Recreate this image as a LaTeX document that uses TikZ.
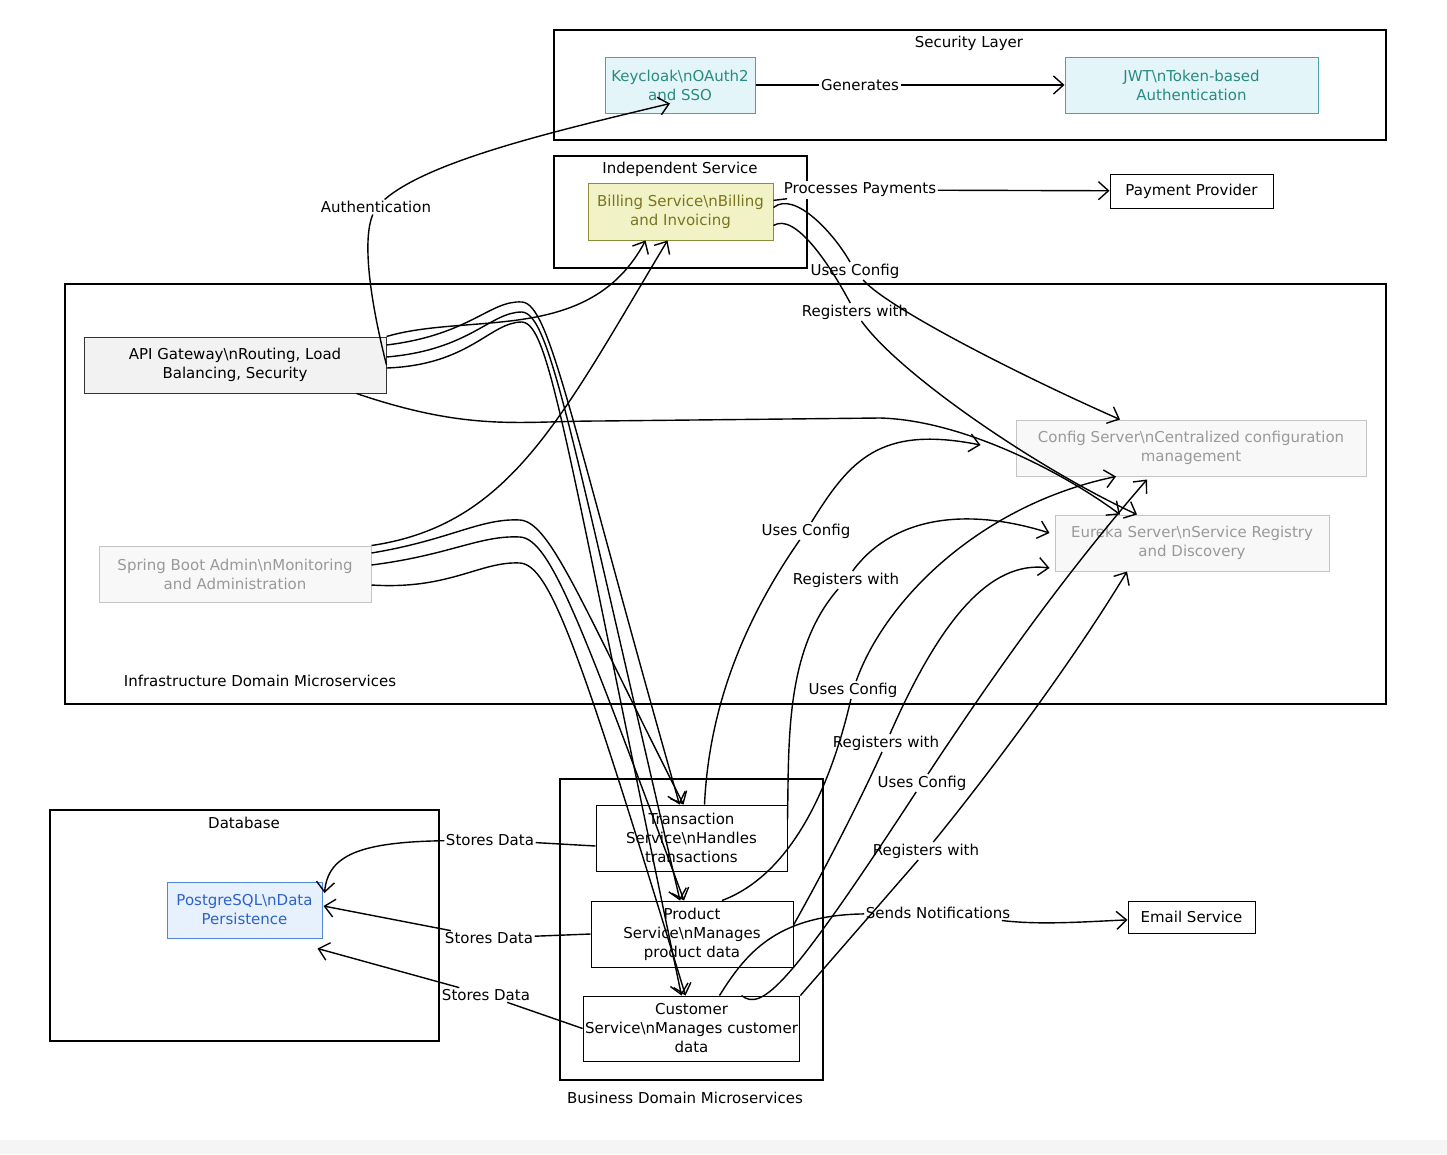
\documentclass[tikz,border=0pt]{standalone}
\usepackage{fontspec}
\setmainfont{DejaVu Sans}
\usetikzlibrary{arrows.meta,calc}

\definecolor{secfill}{HTML}{E3F5F9}
\definecolor{secline}{HTML}{4BA3A8}
\definecolor{sectext}{HTML}{2A8A80}
\definecolor{billfill}{HTML}{F1F3C6}
\definecolor{billline}{HTML}{8C8C3A}
\definecolor{billtext}{HTML}{7A7420}
\definecolor{gwfill}{HTML}{F2F2F2}
\definecolor{inffill}{HTML}{F8F8F8}
\definecolor{infline}{HTML}{C4C4C4}
\definecolor{inftext}{HTML}{999999}
\definecolor{dbfill}{HTML}{E7F1FD}
\definecolor{dbline}{HTML}{4F86D6}
\definecolor{dbtext}{HTML}{2D62C8}

\newcommand{\bsn}{\textbackslash n}

\begin{document}
\begin{tikzpicture}[x=1pt, y=-1pt, font=\fontsize{15}{19}\selectfont,
    grp/.style={line width=1.3pt},
    box/.style={draw, line width=1pt, align=center, inner sep=2pt},
    secbox/.style={box, fill=secfill, draw=secline, text=sectext},
    billbox/.style={box, fill=billfill, draw=billline, text=billtext},
    gwbox/.style={box, fill=gwfill, draw=black!80},
    infbox/.style={box, fill=inffill, draw=infline, text=inftext},
    dbbox/.style={box, fill=dbfill, draw=dbline, text=dbtext},
    plainbox/.style={box, fill=white, draw=black},
    lbl/.style={fill=white, inner sep=1.5pt},
    arr/.style={-{Straight Barb[length=10pt,width=18pt]}, line width=1.4pt}]
    \useasboundingbox (0,0) rectangle (1447,1154);
    \fill[black!4] (0,1140) rectangle (1447,1154);

    %% Draw the groups
    \draw[grp] (554,30) rectangle (1386,140);
    \node (secT) at (969,43) {Security Layer};
    \draw[grp] (554,156) rectangle (807,268);
    \node (indT) at (680,169) {Independent Service};
    \draw[grp] (65,284) rectangle (1386,704);
    \node (infT) at (260,681) {Infrastructure Domain Microservices};
    \draw[grp] (560,779) rectangle (823,1080);
    \node (busT) at (685,1098) {Business Domain Microservices};
    \draw[grp] (50,810) rectangle (439,1041);
    \node (dbT) at (244,823) {Database};

    %% Draw the nodes
    \node[secbox, minimum width=150pt, minimum height=56pt] (keycloak) at (680,85) {Keycloak\bsn OAuth2\\and SSO};
    \node[secbox, minimum width=253pt, minimum height=56pt] (jwt) at (1191.5,85) {JWT\bsn Token-based\\Authentication};
    \node[billbox, minimum width=185pt, minimum height=57pt] (billing) at (680.5,211.5) {Billing Service\bsn Billing\\and Invoicing};
    \node[plainbox, minimum width=163pt, minimum height=34pt] (payment) at (1191.5,191) {Payment Provider};
    \node[gwbox, minimum width=302pt, minimum height=56pt] (gateway) at (235,365) {API Gateway\bsn Routing, Load\\Balancing, Security};
    \node[infbox, minimum width=272pt, minimum height=56pt] (admin) at (235,574) {Spring Boot Admin\bsn Monitoring\\and Administration};
    \node[infbox, minimum width=350pt, minimum height=56pt] (config) at (1191,448) {Config Server\bsn Centralized configuration\\management};
    \node[infbox, minimum width=274pt, minimum height=56pt] (eureka) at (1192,543) {Eureka Server\bsn Service Registry\\and Discovery};
    \node[plainbox, minimum width=191pt, minimum height=66pt] (trans) at (691.5,838) {Transaction\\Service\bsn Handles\\transactions};
    \node[plainbox, minimum width=202pt, minimum height=66pt] (prod) at (692,934) {Product\\Service\bsn Manages\\product data};
    \node[plainbox, minimum width=215pt, minimum height=65pt] (cust) at (691.5,1028.5) {Customer\\Service\bsn Manages customer\\data};
    \node[dbbox, minimum width=155pt, minimum height=56pt] (pg) at (244.5,910) {PostgreSQL\bsn Data\\Persistence};
    \node[plainbox, minimum width=127pt, minimum height=32pt] (email) at (1191.5,917) {Email Service};

    %% Draw the edge labels
    \node[lbl] (gen) at (860,85) {Generates};
    \node[lbl] (auth) at (376,207) {Authentication};
    \node[lbl] (pay) at (860,190) {Processes Payments};
    \node[lbl] (bUses) at (855,271) {Uses Config};
    \node[lbl] (bReg) at (855,312) {Registers with};
    \node[lbl] (tUses) at (806,531) {Uses Config};
    \node[lbl] (tReg) at (846,580) {Registers with};
    \node[lbl] (pUses) at (853,690) {Uses Config};
    \node[lbl] (pReg) at (886,743) {Registers with};
    \node[lbl] (cUses) at (922,783) {Uses Config};
    \node[lbl] (cReg) at (926,851) {Registers with};
    \node[lbl] (notif) at (938,913) {Sends Notifications};
    \node[lbl] (tStore) at (490,840) {Stores Data};
    \node[lbl] (pStore) at (489,938) {Stores Data};
    \node[lbl] (cStore) at (486,995) {Stores Data};

    %% Draw the edges
    \begin{scope}[arr]
      \draw (keycloak) -- (gen) -- (jwt);
      \draw (gateway.east) .. controls (370,300) and (362,240) .. (auth) .. controls (430,160) and (560,130) .. ($(keycloak.south)+(-10,-10)$);
      \draw (billing) -- (pay) -- (payment);
      \draw ($(billing.east)+(0,-4)$) .. controls (795,190) and (835,235) .. (bUses) .. controls (890,310) and (1030,380) .. ($(config.north)+(-71,0)$);
      \draw ($(billing.east)+(0,14)$) .. controls (795,212) and (830,265) .. (bReg) .. controls (900,375) and (1040,470) .. ($(eureka.north)+(-55,0)$);
      \draw (gateway.north east) .. controls (470,312) and (590,345) .. ($(billing.south)+(-35,0)$);
      \draw (admin.north east) .. controls (510,525) and (560,420) .. ($(billing.south)+(-13,0)$);
      \draw ($(gateway.east)+(0,-20)$) .. controls (470,335) and (490,300) .. (522,302) .. controls (550,304) and (570,420) .. ($(trans.north)+(-12,0)$);
      \draw ($(gateway.east)+(0,-8)$) .. controls (470,350) and (490,312) .. (522,312) .. controls (550,314) and (570,430) .. ($(prod.north)+(-12,0)$);
      \draw ($(gateway.east)+(0,3)$) .. controls (470,365) and (490,322) .. (522,322) .. controls (550,324) and (565,440) .. ($(cust.north)+(-10,0)$);
      \draw ($(admin.east)+(0,-21)$) .. controls (450,540) and (480,518) .. (520,520) .. controls (550,522) and (580,600) .. ($(trans.north)+(-8,0)$);
      \draw ($(admin.east)+(0,-9)$) .. controls (450,555) and (480,535) .. (520,537) .. controls (550,539) and (580,620) .. ($(prod.north)+(-8,0)$);
      \draw ($(admin.east)+(0,11)$) .. controls (450,590) and (480,561) .. (520,563) .. controls (550,565) and (580,650) .. ($(cust.north)+(-6,0)$);
      \draw ($(gateway.south east)+(-30,0)$) .. controls (470,432) and (520,421) .. (600,421) -- (880,418) .. controls (960,420) and (1060,470) .. ($(eureka.north)+(-72,0)$);
      \draw ($(trans.north)+(13,0)$) .. controls (708,730) and (730,640) .. (tUses) .. controls (850,460) and (880,425) .. ($(config.west)+(-35,-3)$);
      \draw ($(trans.east)+(0,-18)$) .. controls (789,740) and (785,650) .. (tReg) .. controls (890,520) and (960,505) .. ($(eureka.west)+(-5,-10)$);
      \draw ($(prod.north)+(30,0)$) .. controls (790,875) and (830,790) .. (pUses) .. controls (885,600) and (980,505) .. ($(config.south)+(-75,0)$);
      \draw ($(prod.east)+(0,-9)$) .. controls (830,860) and (865,790) .. (pReg) .. controls (940,620) and (990,560) .. ($(eureka.west)+(-5,25)$);
      \draw ($(cust.north)+(50,0)$) .. controls (762,1012) and (790,985) .. (cUses) .. controls (990,680) and (1060,580) .. ($(config.south)+(-44,3)$);
      \draw (cust.north east) -- (cReg) .. controls (1000,760) and (1080,650) .. ($(eureka.south)+(-65,0)$);
      \draw ($(cust.north)+(28,0)$) .. controls (745,955) and (775,915) .. (notif) .. controls (1040,925) and (1080,922) .. (email);
      \draw ($(trans.west)+(0,8)$) -- (tStore) .. controls (360,842) and (328,855) .. ($(pg.east)+(2,-17)$);
      \draw (prod.west) -- (pStore) -- ($(pg.east)+(1,-4)$);
      \draw (cust.west) -- (cStore) -- ($(pg.south east)+(-5,10)$);
    \end{scope}
\end{tikzpicture}
\end{document}
